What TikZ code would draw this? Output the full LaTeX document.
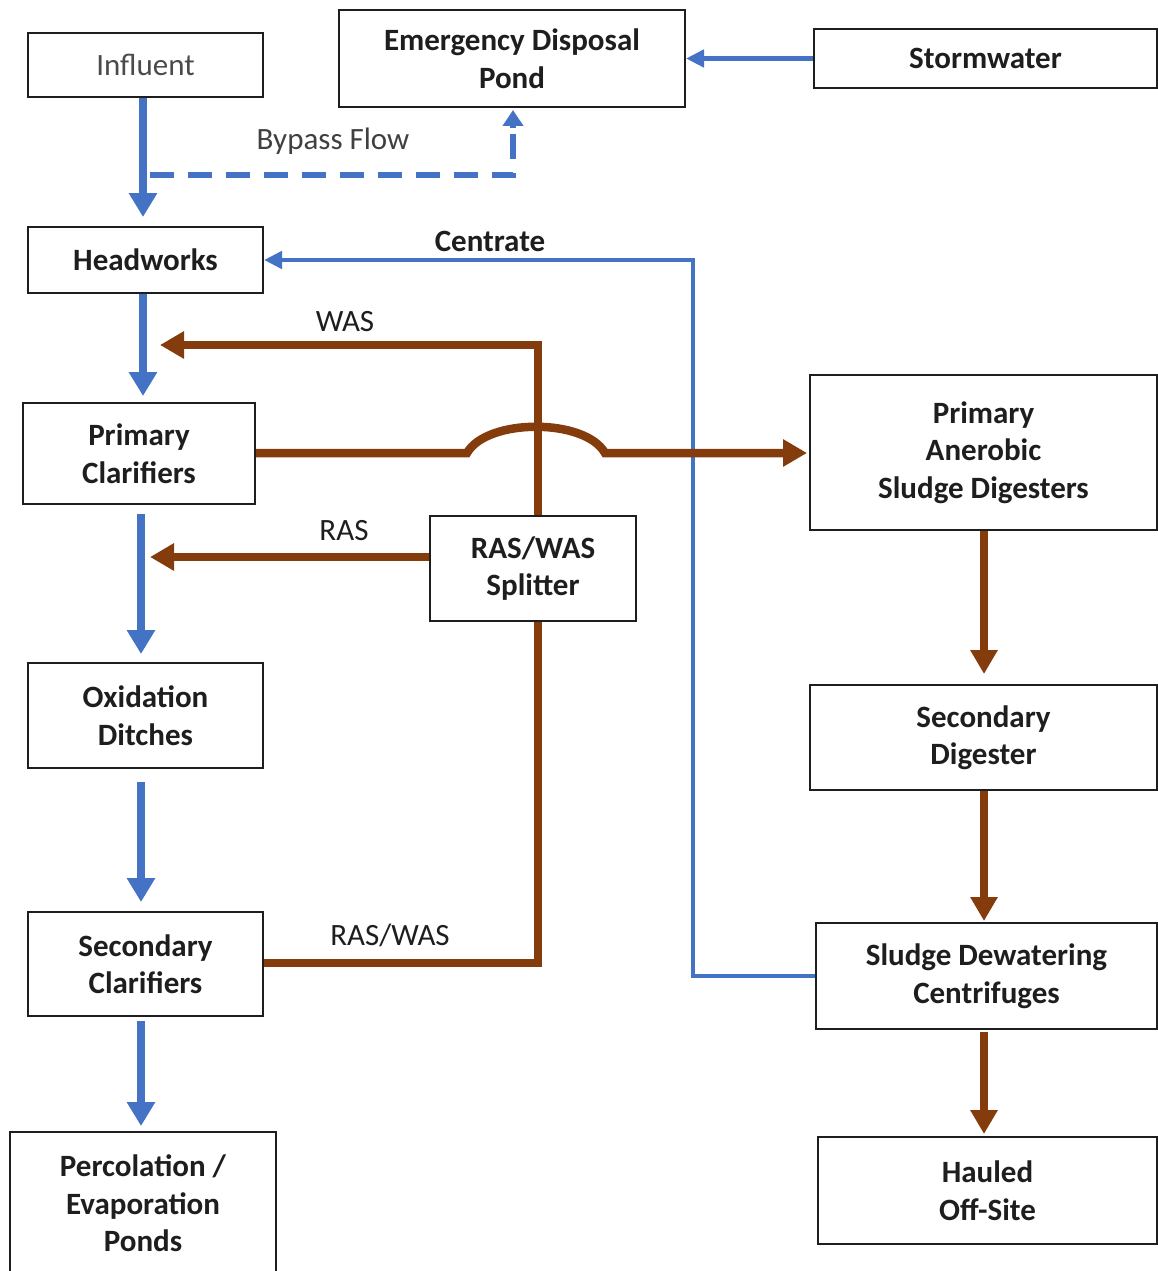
\documentclass[tikz,border=0pt]{standalone}
\usepackage{fontspec}
\setmainfont{Carlito}
\usetikzlibrary{arrows.meta,calc}
\definecolor{flowblue}{RGB}{68,114,196}
\definecolor{sludge}{RGB}{132,60,12}
\definecolor{ink}{RGB}{30,30,30}
\tikzset{
  box/.style={draw=ink,line width=2pt,fill=white,rectangle,inner sep=0pt,align=center,
    font=\fontsize{31}{37.5}\selectfont\bfseries,text=ink},
  plainbox/.style={box,font=\fontsize{31}{37.5}\selectfont,text=ink!80},
  lbl/.style={font=\fontsize{31}{34}\selectfont,text=ink,inner sep=0pt},
  bluearrow/.style={draw=flowblue,line width=8pt,-{Triangle[length=24pt,width=27pt]}},
  thinblue/.style={draw=flowblue,line width=4.5pt,-{Triangle[length=18pt,width=17pt]}},
  brownarrow/.style={draw=sludge,line width=7.5pt,-{Triangle[length=24pt,width=26pt]}},
  brownline/.style={draw=sludge,line width=8pt},
}
\begin{document}
\begin{tikzpicture}[x=1pt,y=-1pt]
\useasboundingbox[fill=white] (0,0) rectangle (1158,1271);
% boxes
\node[plainbox,minimum width=235pt,minimum height=64pt] (inf) at (145.5,65) {Influent};
\node[box,minimum width=346pt,minimum height=97pt] (edp) at (512,58.5) {Emergency Disposal\\Pond};
\node[box,minimum width=343pt,minimum height=59pt] (sw) at (985.5,58.5) {Stormwater};
\node[box,minimum width=235pt,minimum height=66pt] (hw) at (145.5,260) {Headworks};
\node[box,minimum width=232pt,minimum height=101pt] (pc) at (139,453.5) {Primary\\Clarifiers};
\node[box,minimum width=206pt,minimum height=105pt] (spl) at (533,568.5) {RAS/WAS\\Splitter};
\node[box,minimum width=235pt,minimum height=105pt] (ox) at (145.5,715.5) {Oxidation\\Ditches};
\node[box,minimum width=235pt,minimum height=104pt] (sc) at (145.5,964) {Secondary\\Clarifiers};
\node[box,minimum width=266pt,minimum height=143pt] (perc) at (143,1203.5) {Percolation /\\Evaporation\\Ponds};
\node[box,minimum width=347pt,minimum height=155pt] (pad) at (983.5,452.5) {\raisebox{0pt}{}Primary\\Anerobic\\Sludge Digesters};
\node[box,minimum width=347pt,minimum height=105pt] (sd) at (983.5,737.5) {Secondary\\Digester};
\node[box,minimum width=341pt,minimum height=106pt] (dew) at (986.5,976) {Sludge Dewatering\\Centrifuges};
\node[box,minimum width=339pt,minimum height=107pt] (haul) at (987.5,1190.5) {Hauled\\Off-Site};
% helper coordinates
\coordinate (xl) at (143,0);
\coordinate (xm) at (141,0);
\coordinate (xb) at (513,0);
\coordinate (xc) at (693,0);
\coordinate (xs) at (538,0);
\coordinate (xr) at (984,0);
\coordinate (ybp) at (0,175);
\coordinate (ywas) at (0,345);
\coordinate (yrw) at (0,963);
\coordinate (ypc) at (0,453);
% blue main line
\draw[bluearrow,shorten >=9pt] (inf.south -| xl) -- (hw.north -| xl);
\draw[bluearrow,shorten >=6pt] (hw.south -| xl) -- (pc.north -| xl);
\draw[bluearrow,shorten <=9pt,shorten >=8pt] (pc.south -| xm) -- (ox.north -| xm);
\draw[bluearrow,shorten <=13pt,shorten >=9pt] (ox.south -| xm) -- (sc.north -| xm);
\draw[bluearrow,shorten <=4pt,shorten >=5pt] (sc.south -| xm) -- (perc.north -| xm);
% bypass
\coordinate (bp0) at (inf.south |- ybp);
\draw[draw=flowblue,line width=6pt,dash pattern=on 24pt off 14pt] ($(bp0)+(4,0)$) -- (xb |- ybp) -- ($(edp.south -| xb)+(0,25)$);
\draw[draw=flowblue,line width=6pt,-{Triangle[length=16pt,width=20pt]},shorten >=2pt] ($(edp.south -| xb)+(0,20)$) -- (edp.south -| xb);
\node[lbl,text=ink!85] (bpl) at (333,141) {Bypass Flow};
% stormwater
\draw[thinblue] (sw.west) -- (edp.east);
% centrate
\draw[thinblue] (dew.west) -- (xc |- dew.west) -- (xc |- hw.east) -- (hw.east);
\node[lbl,font=\fontsize{31}{34}\selectfont\bfseries] (cl) at (490,241) {Centrate};
% brown flows
\draw[brownline] (sc.east |- yrw) -- (xs |- yrw) -- (spl.south -| xs);
\node[lbl] (rwl) at (390,935) {RAS/WAS};
\draw[brownarrow,line width=8pt] (spl.north -| xs) -- (xs |- ywas) -- (160,345);
\node[lbl] (wasl) at (345,322) {WAS};
\draw[brownarrow,line width=8pt] (spl.west |- 0,557) -- (150,557);
\node[lbl] (rasl) at (344,531) {RAS};
\draw[brownarrow,line width=8.5pt,shorten >=2pt] (pc.east |- ypc) -- (467,453) .. controls (487,418) and (585,418) .. (605,453) -- (pad.west |- ypc);
% right column
\draw[brownarrow,shorten >=10pt] (pad.south -| xr) -- (sd.north -| xr);
\draw[brownarrow,shorten >=1pt] (sd.south -| xr) -- (dew.north -| xr);
\draw[brownarrow,shorten <=2pt,shorten >=2pt] (dew.south -| xr) -- (haul.north -| xr);
\end{tikzpicture}
\end{document}
